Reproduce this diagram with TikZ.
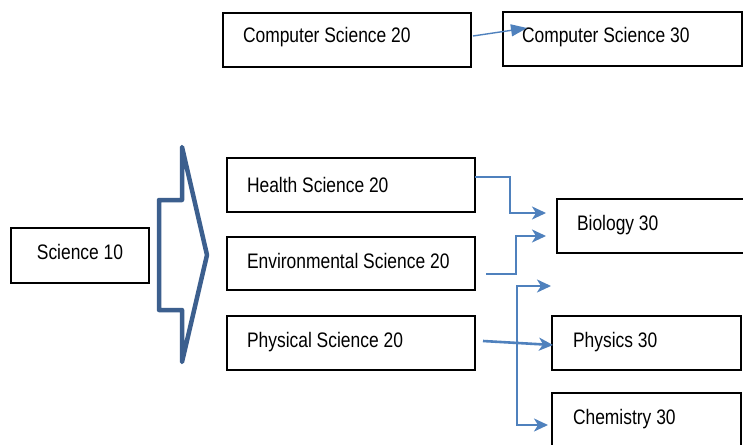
\documentclass[tikz,border=0pt]{standalone}
\usepackage{fontspec}
\usepackage{graphicx}
\setmainfont{Liberation Sans}
\usetikzlibrary{arrows.meta,calc}
\definecolor{arrblue}{HTML}{4F81BD}
\definecolor{bigblue}{HTML}{3C5F8E}
\newcommand{\lbl}[1]{\scalebox{0.83}[1]{\fontsize{21}{24}\selectfont #1}}
\tikzset{
  box/.style={draw=black, line width=1.6pt, rectangle, anchor=north west, inner sep=0pt, outer sep=0pt},
  lbltext/.style={anchor=base west, inner sep=0pt, outer sep=0pt},
  conn/.style={draw=arrblue, line width=2pt, -{Stealth[length=14pt,width=13pt,inset=4pt]}},
}
\begin{document}
\begin{tikzpicture}[x=1pt,y=-1pt]
\clip (0,0) rectangle (743,444);
\fill[white] (0,0) rectangle (743,444);
% boxes
\node[box, minimum width=248pt, minimum height=54pt] (cs20) at (223,13) {};
\node[box, minimum width=239pt, minimum height=54pt] (cs30) at (503,12) {};
\node[box, minimum width=138pt, minimum height=55pt] (sci10) at (11,228) {};
\node[box, minimum width=248pt, minimum height=54pt] (hs) at (227,158) {};
\node[box, minimum width=248pt, minimum height=53pt] (es) at (227,237) {};
\node[box, minimum width=248pt, minimum height=54pt] (ps) at (227,316) {};
\node[box, minimum width=210pt, minimum height=54pt] (bio) at (557,199) {};
\node[box, minimum width=189pt, minimum height=54pt] (phy) at (552,316) {};
\node[box, minimum width=189pt, minimum height=70pt] (chem) at (552,393) {};
% labels
\node[lbltext] (tcs20) at ($(cs20.north west)+(20,30)$) {\lbl{Computer Science 20}};
\node[lbltext] (tcs30) at ($(cs30.north west)+(19,31)$) {\lbl{Computer Science 30}};
\node[anchor=base, inner sep=0pt] (tsci10) at ($(sci10.north)+(0,31)$) {\lbl{Science 10}};
\node[lbltext] (ths) at ($(hs.north west)+(20,34)$) {\lbl{Health Science 20}};
\node[lbltext] (tes) at ($(es.north west)+(20,31)$) {\lbl{Environmental Science 20}};
\node[lbltext] (tps) at ($(ps.north west)+(20,31)$) {\lbl{Physical Science 20}};
\node[lbltext] (tbio) at ($(bio.north west)+(20,31)$) {\lbl{Biology 30}};
\node[lbltext] (tphy) at ($(phy.north west)+(21,31)$) {\lbl{Physics 30}};
\node[lbltext] (tchem) at ($(chem.north west)+(21,31)$) {\lbl{Chemistry 30}};
% big block arrow outline
\draw[bigblue, line width=4.5pt, line join=round, line cap=round]
  (182,147) -- (207,255) -- (182,362) -- (182,310) -- (159,310) -- (159,200) -- (182,200) -- cycle;
% computer science arrow
\coordinate (cstip) at (527,28);
\draw[arrblue, line width=1.4pt, -{Triangle[length=16pt,width=12pt]}] ($(cs20.east)+(2,-4)$) -- (cstip);
% health -> biology
\coordinate (hbtip) at (546,213);
\draw[conn] ($(hs.north east)+(0,19)$) -- (510,177) -- (510,213) -- (hbtip);
% env -> biology
\coordinate (ebtip) at (546,236);
\draw[conn] ($(es.north east)+(11,37)$) -- (516,274) -- (516,236) -- (ebtip);
% physical -> physics
\draw[arrblue, line width=2.6pt, -{Stealth[length=14pt,width=13pt,inset=4pt]}] ($(ps.north east)+(8,25)$) -- ($(phy.west)+(1,2)$);
% branch
\coordinate (brtop) at (551,286);
\coordinate (brbot) at (548,425);
\draw[conn] (517,300) -- (517,286) -- (brtop);
\draw[conn] (517,286) -- (517,425) -- (brbot);
\end{tikzpicture}
\end{document}
